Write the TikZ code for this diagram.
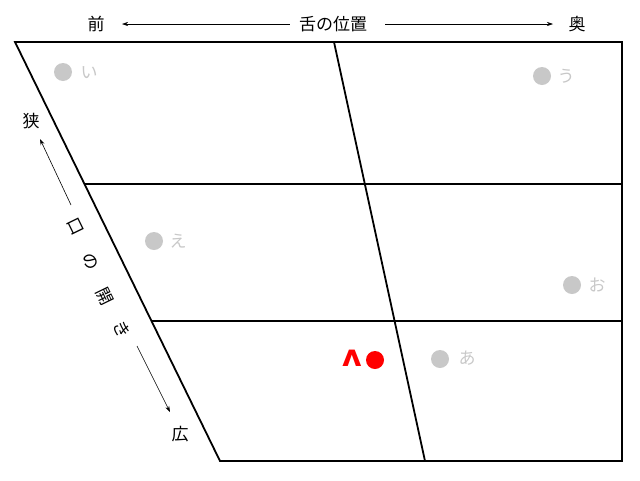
\documentclass[tikz,border=0pt]{standalone}
\usepackage{fontspec}
\newfontfamily\jp{Noto Sans CJK JP}
\newfontfamily\dv{DejaVu Sans}
\usetikzlibrary{arrows.meta}
\definecolor{vgray}{RGB}{200,200,200}
\definecolor{vred}{RGB}{255,0,0}
\tikzset{
  frame/.style={line width=1.8pt},
  lbl/.style={font=\jp\fontsize{17}{17}\selectfont, inner sep=0pt},
  vlbl/.style={font=\jp\fontsize{17}{17}\selectfont, text=vgray, inner sep=0pt},
  vdot/.style={circle, fill=vgray, minimum size=18pt, inner sep=0pt},
  rdot/.style={circle, fill=vred, minimum size=18pt, inner sep=0pt},
  arr/.style={line width=0.6pt, -{Stealth[length=6pt,width=4pt]}},
}
\begin{document}
\begin{tikzpicture}[x=1pt,y=-1pt]
\useasboundingbox (0,0) rectangle (640,480);
% frame
\coordinate (tl) at (15,42);
\coordinate (tr) at (622,42);
\coordinate (br) at (622,461);
\coordinate (bl) at (220,461);
\coordinate (m1) at (84.5,184);
\coordinate (m1r) at (622,184);
\coordinate (m2) at (151.5,321);
\coordinate (m2r) at (622,321);
\coordinate (ct) at (334,42);
\coordinate (cb) at (425,461);
\draw[frame] (tl) -- (tr) -- (br) -- (bl) -- cycle;
\draw[frame] (m1) -- (m1r);
\draw[frame] (m2) -- (m2r);
\draw[frame] (ct) -- (cb);
% top labels
\node[lbl] (front) at (96,24) {前};
\node[lbl] (pos) at (333,24) {舌の位置};
\node[lbl] (back) at (577,24) {奥};
\draw[arr] (pos.west) ++(-9,0) coordinate (pa) -- (122,24) coordinate (pb);
\draw[arr] (pos.east) ++(18,0) coordinate (pc) -- (553,24) coordinate (pd);
% left labels
\node[lbl] (narrow) at (31,121) {狭};
\node[lbl] (wide) at (180,434) {広};
\node[lbl, rotate=-64] (k1) at (75,227) {口};
\node[lbl, rotate=-64] (k2) at (90,262) {の};
\node[lbl, rotate=-64] (k3) at (105,296) {開};
\node[lbl, rotate=-64] (k4) at (122,329) {き};
\draw[arr] (71,205) -- (40,139);
\draw[arr] (137,346) -- (170,412);
% vowels
\node[vdot] (di) at (63,72) {};
\node[vlbl] (ti) at (89,73) {い};
\node[vdot] (du) at (542,76) {};
\node[vlbl] (tu) at (566,76) {う};
\node[vdot] (de) at (154,241) {};
\node[vlbl] (te) at (178,241) {え};
\node[vdot] (do) at (572,285) {};
\node[vlbl] (to) at (597,285) {お};
\node[vdot] (da) at (440,359) {};
\node[vlbl] (ta) at (467,358) {あ};
\node[rdot] (dr) at (375,360) {};
\node[font=\dv\bfseries\fontsize{30}{30}\selectfont, text=vred, inner sep=0pt, anchor=base] (tr2) at (352,366) {ʌ};
\end{tikzpicture}
\end{document}
